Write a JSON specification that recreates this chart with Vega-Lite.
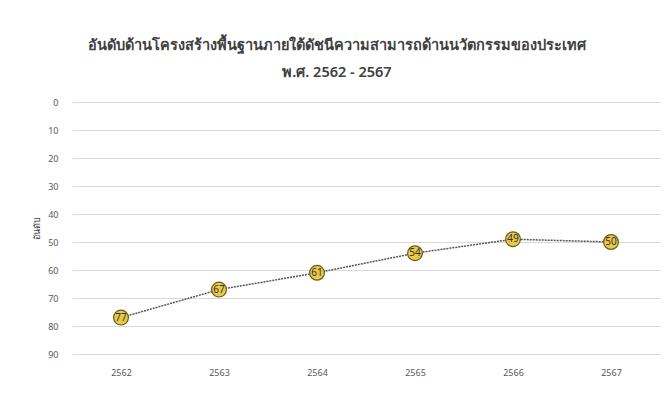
{
  "$schema": "https://vega.github.io/schema/vega-lite/v6.json",
  "width": 588,
  "height": 252,
  "autosize": {"type": "none"},
  "padding": {"left": 72, "top": 102, "right": 5, "bottom": 53},
  "background": "white",
  "config": {"view": {"stroke": null}, "font": "Noto Sans"},
  "title": {
    "text": ["อันดับด้านโครงสร้างพื้นฐานภายใต้ดัชนีความสามารถด้านนวัตกรรมของประเทศ", "พ.ศ. 2562 - 2567"],
    "fontSize": 14.5,
    "fontWeight": 600,
    "color": "#404040",
    "lineHeight": 27,
    "offset": 18,
    "dx": -29,
    "anchor": "middle"
  },
  "data": {"values": [
    {"year": "2562", "rank": 77},
    {"year": "2563", "rank": 67},
    {"year": "2564", "rank": 61},
    {"year": "2565", "rank": 54},
    {"year": "2566", "rank": 49},
    {"year": "2567", "rank": 50}
  ]},
  "encoding": {
    "x": {"field": "year", "type": "ordinal", "scale": {"type": "point", "padding": 0.5},
      "axis": {"title": null, "labelAngle": 0, "domain": false, "ticks": false, "labelFontSize": 9, "labelColor": "#595959", "labelPadding": 14}},
    "y": {"field": "rank", "type": "quantitative", "scale": {"domain": [0, 90], "reverse": true, "nice": false},
      "axis": {"title": "อันดับ", "titleFontSize": 9, "titleColor": "#404040", "titleFontWeight": "normal", "titlePadding": 6,
        "values": [0,10,20,30,40,50,60,70,80,90], "domain": false, "ticks": false, "labelFontSize": 9, "labelColor": "#595959", "labelPadding": 14,
        "gridColor": "#d9d9d9", "gridWidth": 1}}
  },
  "layer": [
    {"mark": {"type": "line", "color": "#555555", "strokeWidth": 1.5, "strokeDash": [2, 1]}},
    {"mark": {"type": "point", "filled": true, "size": 220, "fill": "#e8c94a", "stroke": "#6b5d16", "strokeWidth": 1.2, "opacity": 1}},
    {"mark": {"type": "text", "fontSize": 10, "color": "#333333"}, "encoding": {"text": {"field": "rank", "type": "quantitative"}}}
  ]
}
